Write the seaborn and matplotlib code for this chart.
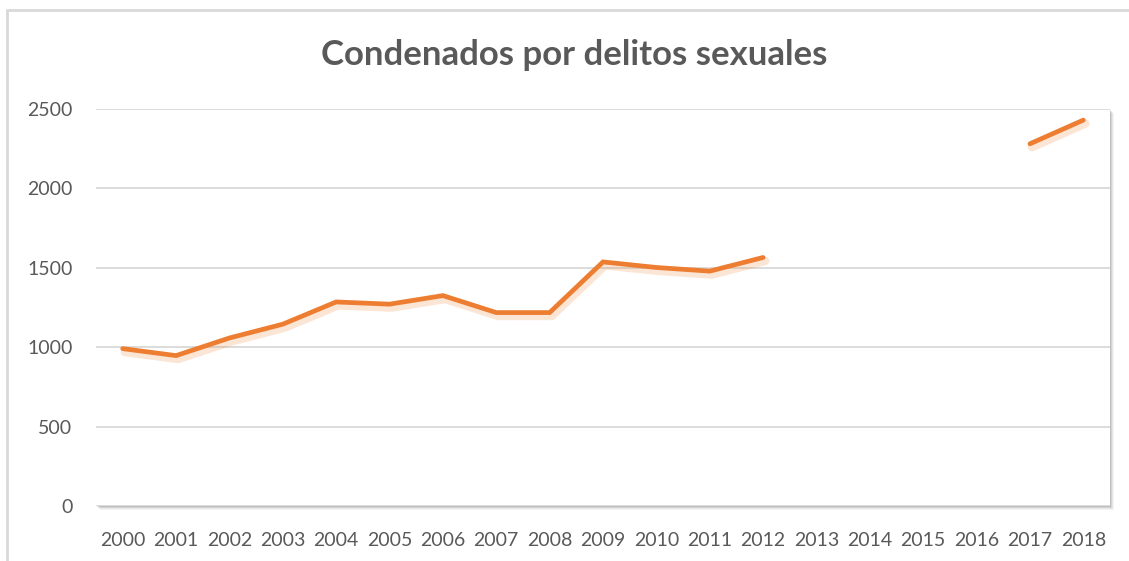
import numpy as np
import pandas as pd
import matplotlib
matplotlib.use('Agg')
import matplotlib.pyplot as plt
import matplotlib.patheffects as pe
from matplotlib.patches import Rectangle
from matplotlib.lines import Line2D
import seaborn as sns

# datos (2013-2016 sin dato)
years = [str(y) for y in range(2000, 2019)]
condenados = [991, 947, 1058, 1145, 1285, 1271, 1325, 1218, 1218, 1537,
              1502, 1479, 1565, np.nan, np.nan, np.nan, np.nan, 2281, 2430]
yticks = [0, 500, 1000, 1500, 2000, 2500]

df = pd.DataFrame({'year': years, 'condenados': condenados})
df['pos'] = range(len(df))
# tramos separados por los huecos, para que la linea no los una
df['tramo'] = df['condenados'].isna().cumsum()

sns.set_theme(style='white')
plt.rcParams['font.family'] = ['Lato', 'DejaVu Sans']

gris = '#595959'
naranja = '#ED7D31'

fig = plt.figure(figsize=(11.29, 5.61), dpi=100)
ax = fig.add_axes([96 / 1129, 55 / 561, 1014 / 1129, 397 / 561])

# sombra del area de trazado
for i, a in enumerate([0.10, 0.08, 0.06, 0.04]):
    d = 1 + i
    fig.patches.append(Rectangle(((96 + d) / 1129, (55 - d) / 561), 1014 / 1129, 397 / 561,
                                 transform=fig.transFigure, facecolor='#000000', alpha=a,
                                 edgecolor='none', zorder=0))
ax.set_facecolor('white')
ax.set_zorder(1)

# borde del grafico
fig.add_artist(Line2D([7 / 1129, 7 / 1129], [0, 1 - 10 / 561], color='#D9D9D9', lw=2,
                      transform=fig.transFigure))
fig.add_artist(Line2D([7 / 1129, 1], [1 - 10 / 561, 1 - 10 / 561], color='#D9D9D9', lw=2,
                      transform=fig.transFigure))

datos = df.dropna()
sns.lineplot(data=datos, x='pos', y='condenados', units='tramo', estimator=None, ax=ax,
             color=naranja, linewidth=3.4, solid_capstyle='round', solid_joinstyle='miter',
             path_effects=[pe.SimpleLineShadow(offset=(1.5, -2.5), shadow_color='#ED7D31',
                                               alpha=0.2, linewidth=6),
                           pe.Normal()])

ax.set_xlim(-0.5, len(years) - 0.5)
ax.set_ylim(0, 2500)
ax.set_yticks(yticks)
ax.set_yticklabels([str(v) for v in yticks])
ax.set_xticks(df['pos'])
ax.set_xticklabels(years)
ax.grid(axis='y', color='#D9D9D9', linewidth=1.3)
ax.set_axisbelow(True)
for s in ax.spines.values():
    s.set_visible(False)
ax.tick_params(axis='both', length=0, labelsize=14, labelcolor=gris)
ax.tick_params(axis='y', pad=17)
ax.tick_params(axis='x', pad=19)
ax.set_xlabel('')
ax.set_ylabel('')

fig.text(574 / 1129, 1 - 55 / 561, 'Condenados por delitos sexuales', ha='center', va='center',
         fontsize=25, fontweight='bold', color=gris)

fig.savefig('out.png', dpi=100, facecolor='white')
